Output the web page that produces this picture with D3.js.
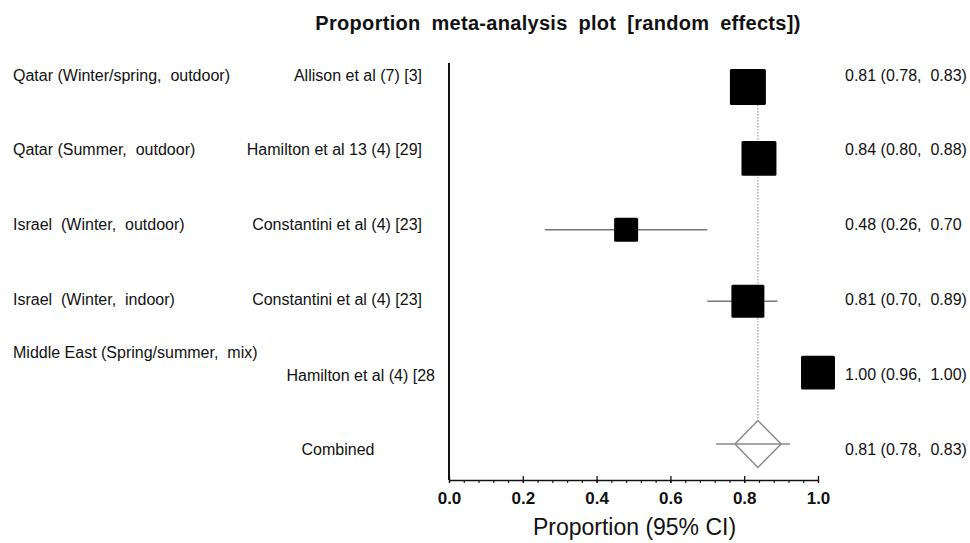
<!DOCTYPE html>
<html>
<head>
<meta charset="utf-8">
<script src="https://cdn.jsdelivr.net/npm/d3@7"></script>
<style>
  body { margin: 0; background: #fff; }
  svg { font-family: "Liberation Sans", Arial, sans-serif; }
  svg text { white-space: pre; }
</style>
</head>
<body>
<div id="chart-area"></div>
<script>
const width = 970
const height = 543

// studies, top to bottom
const regions = ['Qatar (Winter/spring,  outdoor)', 'Qatar (Summer,  outdoor)', 'Israel  (Winter,  outdoor)',
  'Israel  (Winter,  indoor)', 'Middle East (Spring/summer,  mix)']
const studies = ['Allison et al (7) [3]', 'Hamilton et al 13 (4) [29]', 'Constantini et al (4) [23]',
  'Constantini et al (4) [23]', 'Hamilton et al (4) [28']
const estimates = [0.81, 0.84, 0.48, 0.81, 1.00]
const lower = [0.78, 0.80, 0.26, 0.70, 0.96]
const upper = [0.83, 0.88, 0.70, 0.89, 1.00]
const weights = [24.3, 22.9, 10.8, 20.4, 21.6]
const ciLabels = ['0.81 (0.78,  0.83)', '0.84 (0.80,  0.88)', '0.48 (0.26,  0.70', '0.81 (0.70,  0.89)',
  '1.00 (0.96,  1.00)', '0.81 (0.78,  0.83)']

// pooled estimate as drawn
const pooled = {est: 0.837, lo: 0.775, hi: 0.90, predLo: 0.724, predHi: 0.924}
const xTicks = [0, 0.2, 0.4, 0.6, 0.8, 1.0]
const xMinorTicks = d3.range(0, 26).map(i => i * 0.04)

const svg = d3.select('#chart-area')
  .append('svg')
    .attr('width', width)
    .attr('height', height)

const x = d3.scaleLinear().domain([0, 1]).range([449, 818])
// row positions for marks and for texts
const y = d3.scaleLinear().domain([0, 5]).range([87, 444])
const yText = d3.scaleLinear().domain([0, 5]).range([75, 449])
const size = d3.scaleSqrt().domain([0, d3.max(weights)]).range([0, 36])

const axisY = 480

svg.append('text')
  .attr('x', 558)
  .attr('y', 23)
  .attr('dy', '0.35em')
  .attr('text-anchor', 'middle')
  .attr('font-size', '20px')
  .attr('font-weight', 'bold')
  .attr('letter-spacing', '0.3px')
  .attr('word-spacing', '5px')
  .attr('fill', '#111')
  .text('Proportion meta-analysis plot [random effects])')

// y axis line
svg.append('line')
  .attr('x1', x(0)).attr('x2', x(0))
  .attr('y1', 63).attr('y2', axisY)
  .attr('stroke', '#111')
  .attr('stroke-width', 2)

// x axis: minor ticks then major ticks with labels
const minorAxis = svg.append('g')
  .attr('transform', `translate(0,${axisY})`)
  .call(d3.axisBottom(x).tickValues(xMinorTicks).tickSize(3).tickSizeOuter(0).tickFormat(''))
minorAxis.select('.domain').remove()
minorAxis.selectAll('.tick line').attr('stroke', '#222').attr('stroke-width', 1.2)

const xAxis = svg.append('g')
  .attr('transform', `translate(0,${axisY})`)
  .call(d3.axisBottom(x).tickValues(xTicks).tickSize(3).tickSizeOuter(0).tickPadding(9).tickFormat(d3.format('.1f')))
xAxis.select('.domain').attr('stroke', '#111').attr('stroke-width', 1.5)
xAxis.selectAll('.tick line').attr('y1', -4).attr('stroke', '#111').attr('stroke-width', 1.3)
xAxis.selectAll('.tick text')
  .attr('font-family', '"Liberation Sans", Arial, sans-serif')
  .attr('font-size', '17px')
  .attr('font-weight', 'bold')
  .attr('fill', '#111')

svg.append('text')
  .attr('x', (x(0) + x(1)) / 2 + 1)
  .attr('y', 535)
  .attr('text-anchor', 'middle')
  .attr('font-size', '23px')
  .attr('fill', '#111')
  .text('Proportion (95% CI)')

// pooled reference line
svg.append('line')
  .attr('x1', x(pooled.est)).attr('x2', x(pooled.est))
  .attr('y1', y(0)).attr('y2', y(5) - 23)
  .attr('stroke', '#999')
  .attr('stroke-width', 1.2)
  .attr('stroke-dasharray', '1.5,1.5')

const rows = estimates.map((e, i) => ({i, est: e, lo: lower[i], hi: upper[i], w: weights[i]}))

svg.selectAll('.ci')
  .data(rows)
  .enter().append('line')
    .attr('class', 'ci')
    .attr('x1', d => x(d.lo))
    .attr('x2', d => x(d.hi))
    .attr('y1', d => y(d.i))
    .attr('y2', d => y(d.i))
    .attr('stroke', '#777')
    .attr('stroke-width', 1.6)

svg.selectAll('.box')
  .data(rows)
  .enter().append('rect')
    .attr('class', 'box')
    .attr('x', d => x(d.est) - size(d.w) / 2)
    .attr('y', d => y(d.i) - size(d.w) / 2)
    .attr('width', d => size(d.w))
    .attr('height', d => size(d.w))
    .attr('rx', 1.5)
    .attr('fill', '#000')

// pooled diamond and prediction line
const dy = 23.5
svg.append('line')
  .attr('x1', x(pooled.predLo)).attr('x2', x(pooled.predHi))
  .attr('y1', y(5)).attr('y2', y(5))
  .attr('stroke', '#888')
  .attr('stroke-width', 1.4)
svg.append('path')
  .attr('d', `M${x(pooled.lo)},${y(5)} L${x(pooled.est)},${y(5) - dy} L${x(pooled.hi)},${y(5)} L${x(pooled.est)},${y(5) + dy} Z`)
  .attr('fill', 'none')
  .attr('stroke', '#888')
  .attr('stroke-width', 1.4)

// left labels
const labelStyle = sel => sel
  .attr('font-size', '16px')
  .attr('fill', '#111')
  .attr('dy', '0.35em')

svg.selectAll('.region')
  .data(regions)
  .enter().append('text')
    .attr('class', 'region')
    .attr('x', 13)
    .attr('y', (d, i) => i < 4 ? yText(i) : yText(i) - 22)
    .call(labelStyle)
    .text(d => d)

const studyEnds = [422, 422, 422, 422, 435]
svg.selectAll('.study')
  .data(studies)
  .enter().append('text')
    .attr('class', 'study')
    .attr('x', (d, i) => studyEnds[i])
    .attr('y', (d, i) => i < 4 ? yText(i) : yText(i) + 1)
    .attr('text-anchor', 'end')
    .call(labelStyle)
    .text(d => d)

svg.append('text')
  .attr('x', 338)
  .attr('y', yText(5))
  .attr('text-anchor', 'middle')
  .call(labelStyle)
  .text('Combined')

svg.selectAll('.cilabel')
  .data(ciLabels)
  .enter().append('text')
    .attr('class', 'cilabel')
    .attr('x', 845)
    .attr('y', (d, i) => yText(i))
    .call(labelStyle)
    .text(d => d)
</script>
</body>
</html>
